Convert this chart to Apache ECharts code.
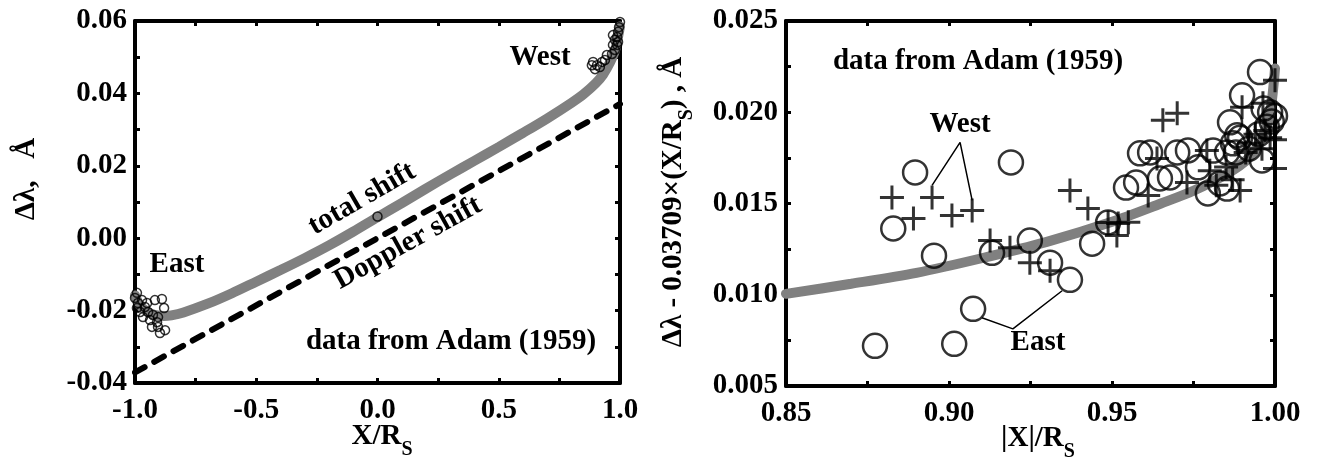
<!DOCTYPE html>
<html>
<head>
<meta charset="utf-8">
<script src="https://cdn.jsdelivr.net/npm/echarts@6/dist/echarts.min.js"></script>
<style>
  html, body { margin: 0; padding: 0; background: #fff; }
  #chart { width: 1320px; height: 466px; }
</style>
</head>
<body>
<div id="chart"></div>
<script>
// left panel: total shift (grey band) and Doppler shift (dashed)
const totalX = [-1.0, -0.98, -0.95, -0.92, -0.88, -0.85, -0.8, -0.7, -0.6, -0.5, -0.4, -0.3, -0.2, -0.1, 0.0,
  0.1, 0.2, 0.3, 0.4, 0.5, 0.6, 0.7, 0.8, 0.85, 0.9, 0.93, 0.96, 0.98, 1.0];
const totalY = [-0.0158, -0.0185, -0.0203, -0.0212, -0.0215, -0.0213, -0.0205, -0.0181, -0.0152, -0.0120, -0.0088,
  -0.0055, -0.0020, 0.0018, 0.0058, 0.0097, 0.0137, 0.0176, 0.0214, 0.0252, 0.0291, 0.0331, 0.0374, 0.0398,
  0.0428, 0.0452, 0.0487, 0.0520, 0.0585];
const dopplerX = [-1.0, 1.0];
const dopplerY = [-0.03709, 0.03709];

// left panel: observed points (Adam 1959)
const eastX = [-0.992, -1.0, -0.988, -0.918, -0.889, -0.88, -0.959, -0.946, -0.979, -0.926, -0.905, -0.938,
  -0.93, -0.905, -0.876, -0.897, -0.909, -0.967, -0.992, -0.971, -0.95];
const eastY = [-0.0151, -0.0165, -0.0179, -0.0171, -0.0168, -0.0193, -0.019, -0.0204, -0.0204, -0.0212, -0.0218,
  -0.0226, -0.0245, -0.0245, -0.0254, -0.0262, -0.0232, -0.0218, -0.0193, -0.0171, -0.0179];
const westX = [1.0, 0.996, 0.992, 0.971, 0.979, 0.988, 0.971, 0.979, 0.967, 0.946, 0.938, 0.926, 0.889, 0.884,
  0.905, 0.917, 0.897, 0.988, 0.992, 0.0];
const westY = [0.0597, 0.0583, 0.057, 0.0561, 0.0548, 0.0534, 0.0534, 0.052, 0.0509, 0.0506, 0.0492, 0.0487,
  0.0487, 0.0478, 0.0478, 0.0473, 0.0467, 0.0556, 0.0542, 0.0060];

// right panel: residual curve
const resX = [0.85, 0.87, 0.89, 0.91, 0.93, 0.95, 0.965, 0.975, 0.985, 0.992, 0.996, 0.9985, 1.0];
const resY = [0.01005, 0.0106, 0.0112, 0.0120, 0.0129, 0.0140, 0.0150, 0.0157, 0.0166, 0.0175, 0.0186, 0.0200, 0.0224];

// right panel: East limb (circles)
const circX = [0.8773, 0.9016, 0.9074, 0.8954, 0.8829, 0.8896, 0.9190, 0.9132, 0.9248, 0.931, 0.9371, 0.9439,
  0.9488, 0.9543, 0.9574, 0.9586, 0.9617, 0.9647, 0.9678, 0.9700, 0.9733, 0.9764, 0.9794, 0.9831, 0.9853,
  0.9862, 0.9853, 0.9899, 0.9954, 0.9985, 0.9990, 0.9975, 0.9871, 0.9893, 0.9960, 0.9950, 0.9920, 0.9880,
  1.000, 0.9965, 0.9810, 0.9884];
const circY = [0.0072, 0.00731, 0.00923, 0.01214, 0.01363, 0.0167, 0.01725, 0.0123, 0.01297, 0.01176, 0.01082,
  0.0128, 0.01396, 0.01587, 0.01615, 0.01775, 0.0178, 0.01637, 0.01643, 0.0178, 0.01791, 0.01698, 0.01555,
  0.0161, 0.01582, 0.01945, 0.0178, 0.02093, 0.0222, 0.0200, 0.0195, 0.0192, 0.0183, 0.0186, 0.01736, 0.0188,
  0.0180, 0.0178, 0.0198, 0.0202, 0.0179, 0.01874];

// right panel: West limb (crosses)
const crossX = [0.8825, 0.8948, 0.8891, 0.9009, 0.9071, 0.9126, 0.9187, 0.9248, 0.931, 0.9515, 0.9371, 0.9426,
  0.9488, 0.9519, 0.9550, 0.9611, 0.9638, 0.9656, 0.9700, 0.9730, 0.9791, 0.9820, 0.9893, 0.9899, 0.9963,
  1.000, 1.000, 0.9940, 0.9970, 0.9985, 1.000, 0.9920, 0.9960, 0.9850, 0.9800, 0.9870, 0.9910];
const crossY = [0.01533, 0.01533, 0.01418, 0.01434, 0.01462, 0.01297, 0.01258, 0.01176, 0.01132, 0.01324, 0.01571,
  0.01473, 0.01396, 0.0139, 0.01397, 0.01544, 0.01747, 0.01956, 0.01995, 0.01615, 0.01791, 0.0160, 0.01571,
  0.02027, 0.0205, 0.02176, 0.01692, 0.0188, 0.0190, 0.0186, 0.0185, 0.0183, 0.0180, 0.0170, 0.0168, 0.0163, 0.0178];

// leader lines for the labels
const westLeadX = [0.8948, 0.9034, 0.9071];
const westLeadY = [0.01599, 0.01835, 0.01517];
const eastLeadX = [0.9101, 0.9196, 0.9347];
const eastLeadY = [0.00874, 0.00813, 0.01022];

const FONT = 'Liberation Serif';
const SIZE = 29;
const zip = (xs, ys) => xs.map((x, i) => [x, ys[i]]);

function axis(type, grid, pos, min, max, step, digits, labels) {
  return {
    type: 'value', gridIndex: grid, position: pos, min: min, max: max, interval: step,
    axisLine: { show: true, onZero: false, lineStyle: { color: '#000', width: 4 } },
    axisTick: { show: true, inside: true, length: 5, lineStyle: { color: '#000', width: 3 } },
    minorTick: { show: true, splitNumber: 2, length: 5, lineStyle: { color: '#000', width: 3 } },
    splitLine: { show: false },
    minorSplitLine: { show: false },
    axisLabel: {
      show: labels, margin: type === 'x' ? 13 : 8, color: '#000', fontFamily: FONT, fontWeight: 'bold',
      fontSize: SIZE, showMinLabel: true, showMaxLabel: true,
      formatter: v => v.toFixed(digits)
    }
  };
}

function txt(x, y, text, rot) {
  return {
    type: 'text', x: x, y: y, rotation: (rot || 0) * Math.PI / 180, z: 100,
    style: {
      text: text, fill: '#000', align: 'center', verticalAlign: 'middle',
      textAlign: 'center', textVerticalAlign: 'middle',
      font: 'bold ' + SIZE + 'px "' + FONT + '"',
      rich: {
        a: { fontFamily: FONT, fontWeight: 'bold', fontSize: SIZE, verticalAlign: 'top' },
        s: { fontFamily: FONT, fontWeight: 'bold', fontSize: 20, verticalAlign: 'top', padding: [17, 0, 0, 0] }
      }
    }
  };
}

const chart = echarts.init(document.getElementById('chart'));
chart.setOption({
  animation: false,
  backgroundColor: '#fff',
  grid: [
    { left: 135, top: 21, width: 485, height: 362, outerBoundsMode: 'none' },
    { left: 786, top: 21, width: 489, height: 365, outerBoundsMode: 'none' }
  ],
  xAxis: [
    axis('x', 0, 'bottom', -1, 1, 0.5, 1, true),
    axis('x', 0, 'top', -1, 1, 0.5, 1, false),
    axis('x', 1, 'bottom', 0.85, 1.0, 0.05, 2, true),
    axis('x', 1, 'top', 0.85, 1.0, 0.05, 2, false)
  ],
  yAxis: [
    axis('y', 0, 'left', -0.04, 0.06, 0.02, 2, true),
    axis('y', 0, 'right', -0.04, 0.06, 0.02, 2, false),
    axis('y', 1, 'left', 0.005, 0.025, 0.005, 3, true),
    axis('y', 1, 'right', 0.005, 0.025, 0.005, 3, false)
  ],
  series: [
    {
      type: 'line', xAxisIndex: 0, yAxisIndex: 0, data: zip(totalX, totalY), smooth: 0.3,
      showSymbol: false, z: 2, lineStyle: { color: '#808080', width: 10, cap: 'round' }
    },
    {
      type: 'line', xAxisIndex: 0, yAxisIndex: 0, data: zip(dopplerX, dopplerY),
      showSymbol: false, z: 3, lineStyle: { color: '#000', width: 6, type: [11, 11], cap: 'round' }
    },
    {
      type: 'scatter', xAxisIndex: 0, yAxisIndex: 0, data: zip(eastX, eastY).concat(zip(westX, westY)),
      symbol: 'circle', symbolSize: 9, z: 4,
      itemStyle: { color: 'rgba(0,0,0,0)', borderColor: '#000', borderWidth: 1.5 }
    },
    {
      type: 'line', xAxisIndex: 2, yAxisIndex: 2, data: zip(resX, resY), smooth: 0.3,
      showSymbol: false, z: 2, lineStyle: { color: '#808080', width: 10, cap: 'round' }
    },
    {
      type: 'scatter', xAxisIndex: 2, yAxisIndex: 2, data: zip(circX, circY),
      symbol: 'circle', symbolSize: 24, z: 4,
      itemStyle: { color: 'rgba(0,0,0,0)', borderColor: '#000', borderWidth: 2.5 }
    },
    {
      type: 'scatter', xAxisIndex: 2, yAxisIndex: 2, data: zip(crossX, crossY),
      symbol: 'path://M10,0 L10,20 M0,10 L20,10', symbolSize: 24, z: 4,
      itemStyle: { color: 'rgba(0,0,0,0)', borderColor: '#000', borderWidth: 3 }
    },
    {
      type: 'line', xAxisIndex: 2, yAxisIndex: 2, data: zip(westLeadX, westLeadY),
      showSymbol: false, z: 5, lineStyle: { color: '#000', width: 1.5 }
    },
    {
      type: 'line', xAxisIndex: 2, yAxisIndex: 2, data: zip(eastLeadX, eastLeadY),
      showSymbol: false, z: 5, lineStyle: { color: '#000', width: 1.5 }
    }
  ],
  graphic: [
    txt(540, 58, 'West'),
    txt(177, 265, 'East'),
    txt(362, 199, 'total shift', 30),
    txt(408, 243, 'Doppler shift', 29),
    txt(451, 342, 'data from Adam (1959)'),
    txt(978, 62, 'data from Adam (1959)'),
    txt(960, 125, 'West'),
    txt(1038, 343, 'East'),
    txt(382, 441, '{a|X/R}{s|S}'),
    txt(1038, 443, '{a|\u007CX\u007C/R}{s|S}'),
    txt(27, 179, '{a|Δλ,   Å}', 90),
    txt(678, 202, '{a|Δλ - 0.03709×(X/R}{s|S}{a|) , Å}', 90)
  ]
});
</script>
</body>
</html>
